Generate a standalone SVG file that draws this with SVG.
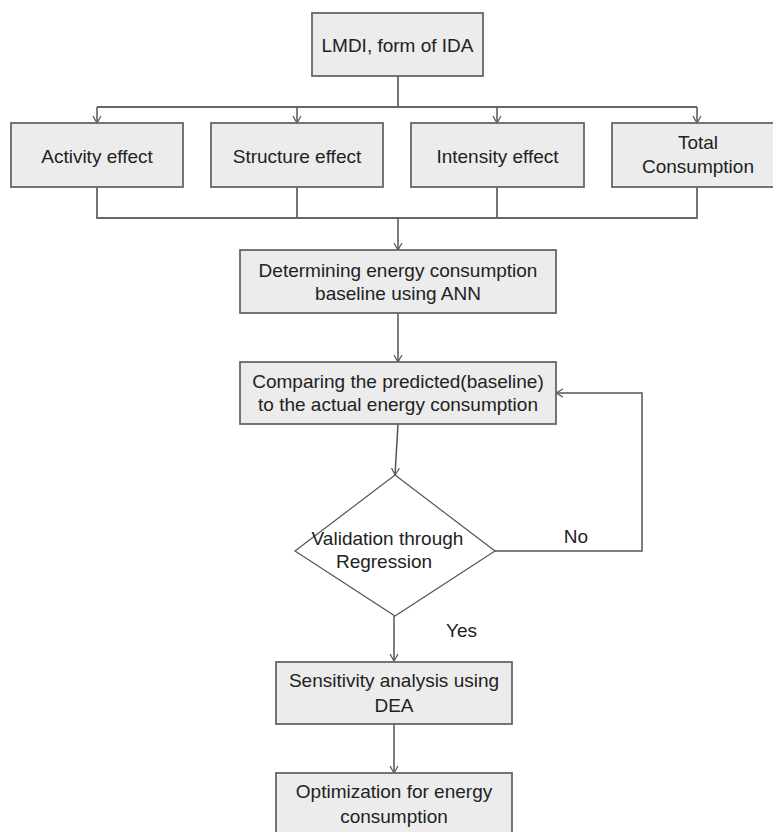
<svg xmlns="http://www.w3.org/2000/svg" width="773" height="832" viewBox="0 0 773 832">
<defs>
<marker id="arr" markerUnits="userSpaceOnUse" markerWidth="12" markerHeight="12" refX="7" refY="4.5" orient="auto">
<path d="M0,0.5 L7,4.5 L0,8.5" fill="none" stroke="#555" stroke-width="1.2"/>
</marker>
</defs>
<style>
.box{fill:#ececec;stroke:#666;stroke-width:1.8}
.dia{fill:#fff;stroke:#555;stroke-width:1.2}
.t{font-family:"Liberation Sans",Arial,sans-serif;font-size:19px;fill:#222;text-anchor:middle}
.ln{fill:none;stroke:#666;stroke-width:1.8}
.la{fill:none;stroke:#555;stroke-width:1.5;marker-end:url(#arr)}
</style>
<rect width="773" height="832" fill="#fff"/>
<g id="connectors">
<path class="ln" d="M398,76 V107 M97,107 H697"/>
<path class="la" d="M97,107 V123"/>
<path class="la" d="M297,107 V123"/>
<path class="la" d="M497,107 V123"/>
<path class="la" d="M697,107 V123"/>
<path class="ln" d="M97,187 V218 H697 V187 M297,187 V218 M497,187 V218"/>
<path class="la" d="M398,218 V250"/>
<path class="la" d="M398,313 V362"/>
<path class="la" d="M398,424 L395,475"/>
<path class="la" d="M495,551 H642 V393 H556"/>
<path class="la" d="M394,616 V661"/>
<path class="la" d="M394,724 V773"/>
</g>
<g id="lmdi">
<rect class="box" x="312" y="13" width="171" height="63"/>
<text class="t" x="397.5" y="52">LMDI, form of IDA</text>
</g>
<g id="activity">
<rect class="box" x="11" y="123" width="172" height="64"/>
<text class="t" x="97" y="163">Activity effect</text>
</g>
<g id="structure">
<rect class="box" x="211" y="123" width="172" height="64"/>
<text class="t" x="297" y="163">Structure effect</text>
</g>
<g id="intensity">
<rect class="box" x="411" y="123" width="173" height="64"/>
<text class="t" x="497.5" y="163">Intensity effect</text>
</g>
<g id="total">
<rect class="box" x="612" y="123" width="172" height="64"/>
<text class="t" x="698" y="149">Total</text>
<text class="t" x="698" y="173">Consumption</text>
</g>
<g id="baseline">
<rect class="box" x="240" y="250" width="316" height="63"/>
<text class="t" x="398" y="277">Determining energy consumption</text>
<text class="t" x="398" y="300">baseline using ANN</text>
</g>
<g id="compare">
<rect class="box" x="240" y="362" width="316" height="62"/>
<text class="t" x="398" y="388">Comparing the predicted(baseline)</text>
<text class="t" x="398" y="411">to the actual energy consumption</text>
</g>
<g id="validation">
<polygon class="dia" points="395,475 495,551 395,616 295,551"/>
<text class="t" x="387.5" y="545">Validation through</text>
<text class="t" x="384" y="568">Regression</text>
</g>
<g id="labels">
<text class="t" x="576" y="543">No</text>
<text class="t" x="461.5" y="637">Yes</text>
</g>
<g id="sensitivity">
<rect class="box" x="276" y="662" width="236" height="62"/>
<text class="t" x="394" y="687">Sensitivity analysis using</text>
<text class="t" x="394" y="712">DEA</text>
</g>
<g id="optimization">
<rect class="box" x="276" y="773" width="236" height="62"/>
<text class="t" x="394" y="798">Optimization for energy</text>
<text class="t" x="394" y="823">consumption</text>
</g>
</svg>
